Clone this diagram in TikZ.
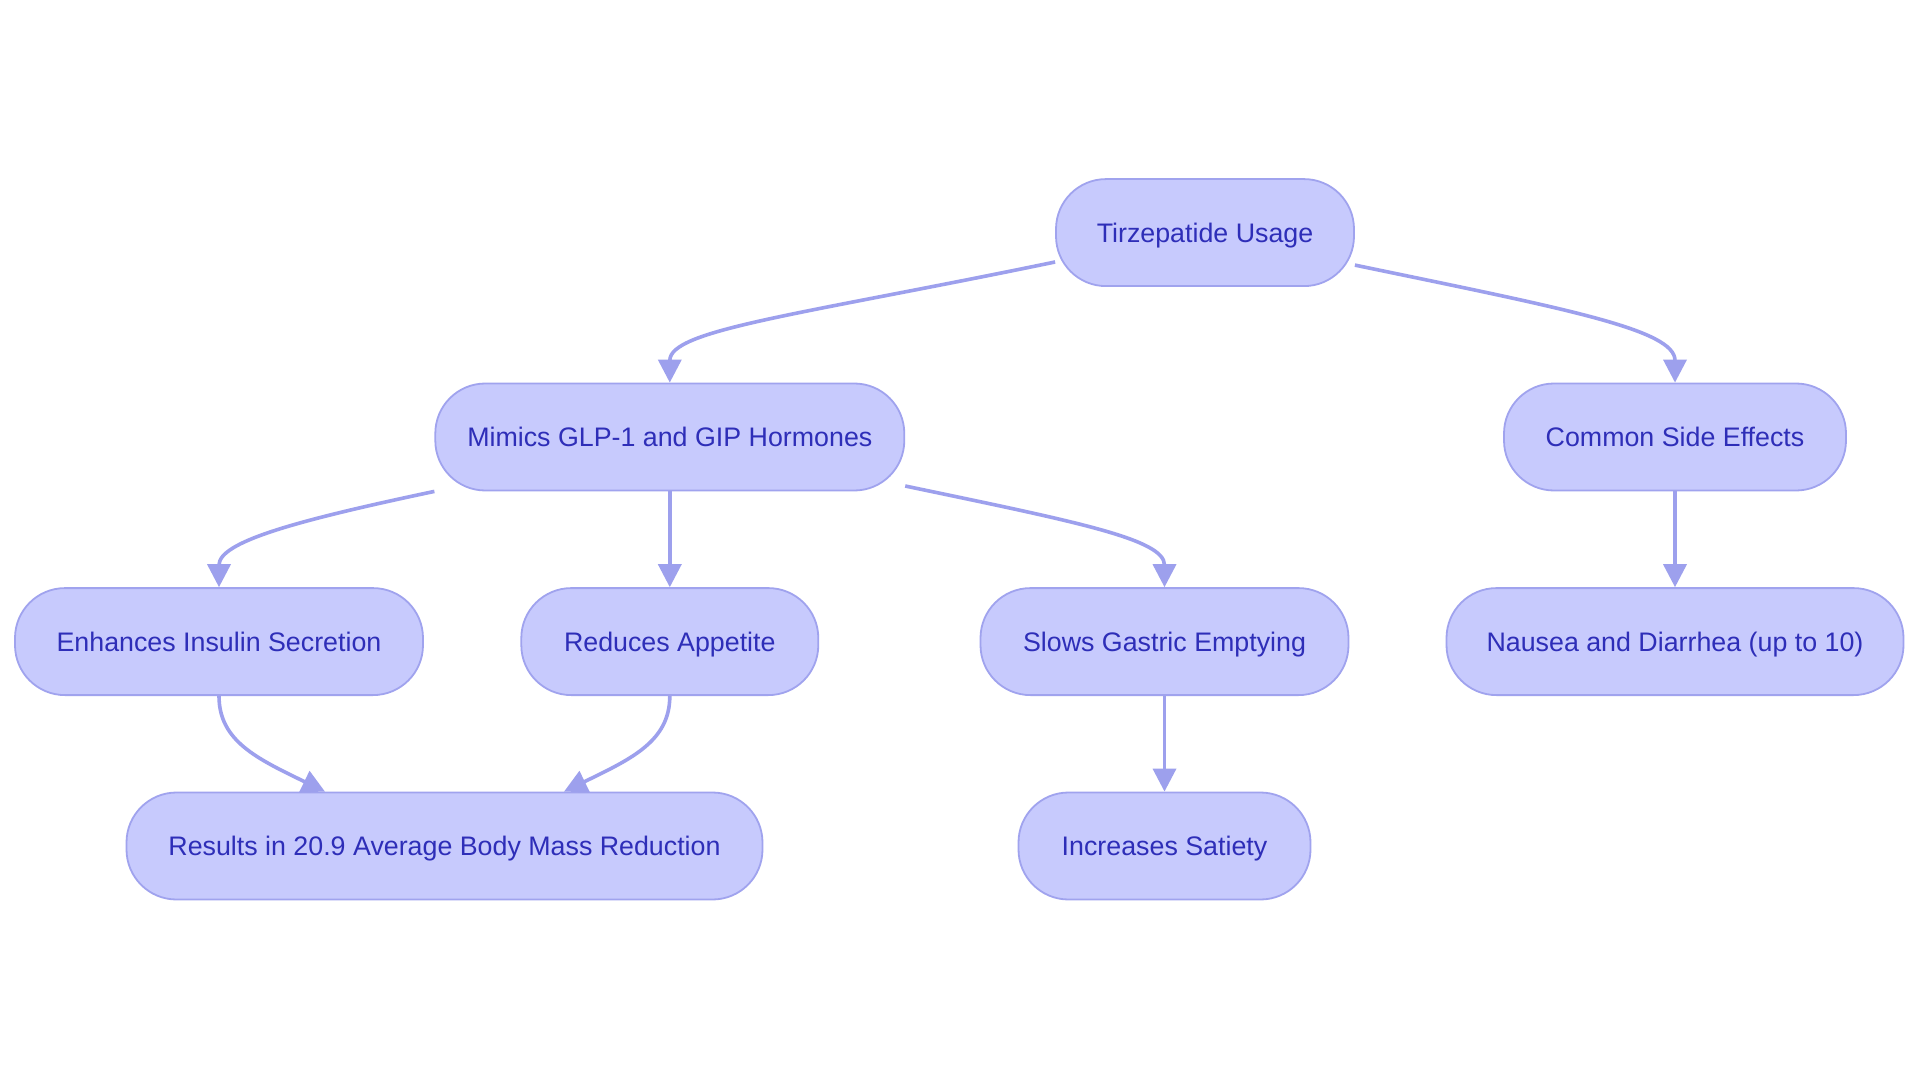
\documentclass[tikz,border=0pt]{standalone}
\usepackage{fontspec}
\setmainfont{Liberation Sans}
\usetikzlibrary{arrows.meta}
\definecolor{nodefill}{RGB}{199,202,253}
\definecolor{nodeline}{RGB}{160,163,238}
\definecolor{edgecol}{RGB}{157,160,237}
\definecolor{txtcol}{RGB}{46,46,184}
\begin{document}
\begin{tikzpicture}[x=1pt,y=-1pt,
  box/.style={draw=nodeline, line width=1.8pt, fill=nodefill, rounded corners=50pt,
    minimum height=107pt, inner sep=0pt, text=txtcol,
    font=\fontsize{26.8}{32}\selectfont, text height=19.5pt, text depth=0pt},
  link/.style={draw=edgecol, line width=3.6pt, -{Triangle[length=23pt,width=23pt]}, color=edgecol}]
\useasboundingbox[fill=white] (0,0) rectangle (1920,1083);
\node[box, minimum width=298pt] (tirz) at (1205,232.6) {Tirzepatide Usage};
\node[box, minimum width=469pt] (mimics) at (669.8,437) {Mimics GLP-1 and GIP Hormones};
\node[box, minimum width=342pt] (common) at (1675,437) {Common Side Effects};
\node[box, minimum width=408pt] (enh) at (219,641.6) {Enhances Insulin Secretion};
\node[box, minimum width=297pt] (red) at (669.8,641.6) {Reduces Appetite};
\node[box, minimum width=368pt] (slows) at (1164.5,641.6) {Slows Gastric Emptying};
\node[box, minimum width=457pt] (nausea) at (1675,641.6) {Nausea and Diarrhea (up to 10)};
\node[box, minimum width=636pt] (res) at (444.5,846) {Results in 20.9 Average Body Mass Reduction};
\node[box, minimum width=292pt] (incr) at (1164.5,846) {Increases Satiety};

\draw[link] ([yshift=-29.4pt]tirz.west) .. controls +(-256,53) and +(0,-53) .. (mimics.north);
\draw[link] ([yshift=-32.5pt]tirz.east) .. controls +(212,44) and +(0,-53) .. (common.north);
\draw[link] (mimics.south west) .. controls +(-142,30) and +(0,-45) .. (enh.north);
\draw[link] (mimics.south) -- (red.north);
\draw[link] ([yshift=-49pt]mimics.east) .. controls +(172,36) and +(0,-48) .. (slows.north);
\draw[link] (common.south) -- (nausea.north);
\draw[link] (enh.south) .. controls +(0,45) and +(-68,-33) .. ([xshift=-119.5pt]res.north);
\draw[link] (red.south) .. controls +(0,45) and +(68,-33) .. ([xshift=119.5pt]res.north);
\draw[link] (slows.south) -- (incr.north);
\end{tikzpicture}
\end{document}
